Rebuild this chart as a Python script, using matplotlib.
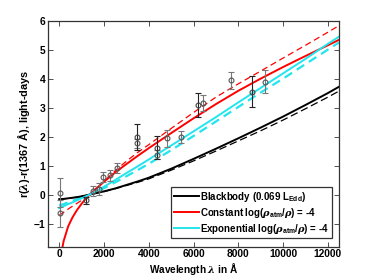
import numpy as np
import matplotlib.pyplot as plt

# 폰트 설정 (Helvetica 비슷하게)
plt.rcParams['font.family'] = ['Liberation Sans', 'DejaVu Sans']
plt.rcParams['font.weight'] = 'bold'
plt.rcParams['mathtext.fontset'] = 'custom'
plt.rcParams['mathtext.rm'] = 'Liberation Sans:bold'
plt.rcParams['mathtext.bf'] = 'Liberation Sans:bold'
plt.rcParams['mathtext.it'] = 'DejaVu Serif:italic'

# 모델 곡선
lam_model = [0, 200, 400, 600, 800, 1000, 1200, 1367, 1600, 2000, 2500, 3000, 3500,
             4000, 5000, 6000, 7000, 8000, 9000, 10000, 11000, 12000, 12500]

bb_solid = [-0.16, -0.15, -0.13, -0.11, -0.09, -0.06, -0.03, 0.0, 0.04, 0.11, 0.21, 0.33, 0.45,
            0.58, 0.89, 1.23, 1.58, 1.94, 2.31, 2.69, 3.09, 3.5, 3.72]
bb_dash = [-0.16, -0.15, -0.13, -0.11, -0.09, -0.06, -0.03, 0.0, 0.04, 0.10, 0.20, 0.31, 0.42,
           0.54, 0.84, 1.16, 1.5, 1.85, 2.2, 2.57, 2.96, 3.36, 3.57]
const_solid = [-2.4, -1.6, -1.1, -0.78, -0.53, -0.32, -0.13, 0.0, 0.17, 0.44, 0.76, 1.05, 1.33,
               1.60, 2.12, 2.63, 3.12, 3.58, 4.0, 4.4, 4.78, 5.15, 5.34]
const_dash = [-0.72, -0.61, -0.5, -0.4, -0.3, -0.2, -0.1, 0.0, 0.17, 0.45, 0.82, 1.15, 1.45,
              1.72, 2.28, 2.83, 3.36, 3.82, 4.26, 4.71, 5.15, 5.6, 5.83]
exp_solid = [-0.47, -0.4, -0.33, -0.27, -0.2, -0.13, -0.06, 0.0, 0.1, 0.27, 0.5, 0.74, 0.97,
             1.21, 1.69, 2.18, 2.67, 3.18, 3.68, 4.18, 4.68, 5.2, 5.45]
exp_dash = [-0.38, -0.33, -0.27, -0.22, -0.16, -0.1, -0.05, 0.0, 0.08, 0.22, 0.42, 0.63, 0.84,
            1.06, 1.53, 2.02, 2.52, 3.02, 3.52, 4.0, 4.5, 5.0, 5.25]

# 관측 지연값 (회색 / 검정 에러바)
lam_gray = [30, 30, 1497, 1765, 1944, 2270, 2597, 3460, 4384, 4800, 5429, 6439, 7662, 9180]
r_gray = [0.07, -0.65, 0.12, 0.2, 0.6, 0.66, 0.91, 1.77, 1.38, 1.94, 2.0, 3.17, 3.94, 3.89]
err_gray = [0.5, 0.47, 0.17, 0.2, 0.18, 0.18, 0.18, 0.15, 0.15, 0.3, 0.21, 0.27, 0.29, 0.4]

lam_black = [1197, 3460, 4384, 6216, 8600]
r_black = [-0.2, 2.0, 1.61, 3.09, 3.55]
err_black = [0.12, 0.45, 0.4, 0.41, 0.53]

fig = plt.figure(figsize=(3.75, 2.78), dpi=100)
ax = fig.add_axes([0.128, 0.1126, 0.776, 0.813])

ax.plot(lam_model, bb_dash, color='black', lw=0.9, dashes=(6, 3))
ax.plot(lam_model, exp_dash, color='#22e5ee', lw=1.6, dashes=(4, 2.5))
ax.plot(lam_model, const_dash, color='red', lw=0.9, dashes=(5, 3))
line_bb, = ax.plot(lam_model, bb_solid, color='black', lw=1.4)
line_c, = ax.plot(lam_model, const_solid, color='red', lw=1.4)
line_e, = ax.plot(lam_model, exp_solid, color='#22e5ee', lw=1.4)

ax.errorbar(lam_gray, r_gray, yerr=err_gray, fmt='o', ms=3.5, mfc='none', mec='#555555',
            mew=0.8, ecolor='#777777', elinewidth=0.8, capsize=2.2, capthick=0.8)
ax.errorbar(lam_black, r_black, yerr=err_black, fmt='o', ms=3.5, mfc='none', mec='#444444',
            mew=0.8, ecolor='#222222', elinewidth=0.8, capsize=2.2, capthick=0.8)

ax.set_xlim(-500, 12500)
ax.set_ylim(-1.8, 6)
ax.set_xticks([0, 2000, 4000, 6000, 8000, 10000, 12000])
ax.set_yticks([-1, 0, 1, 2, 3, 4, 5, 6])
ax.tick_params(direction='in', top=True, right=True, length=3.5, width=0.6,
               labelsize=7.4, pad=2, color='#333333')
for lab in ax.get_xticklabels() + ax.get_yticklabels():
    lab.set_fontweight('bold')
for s in ax.spines.values():
    s.set_color('#333333')
    s.set_linewidth(0.9)

ax.set_xlabel(r'Wavelength $\lambda$ in Å', fontsize=7.2, fontweight='bold', labelpad=1)
ax.set_ylabel(r'r($\lambda$)-r(1367 Å), light-days', fontsize=7.8, fontweight='bold', labelpad=1)

leg = ax.legend([line_bb, line_c, line_e],
                [r'Blackbody (0.069 L$_{\mathbf{Edd}}$)',
                 r'Constant log($\rho_{\mathbf{atm}}/\rho$) = -4',
                 r'Exponential log($\rho_{\mathbf{atm}}/\rho$) = -4'],
                loc='lower right', bbox_to_anchor=(0.985, 0.025), fontsize=7,
                fancybox=False, framealpha=1, edgecolor='#333333',
                handlelength=2.6, handletextpad=0.15, borderpad=0.25, labelspacing=0.2,
                borderaxespad=0.3)
leg.get_frame().set_linewidth(0.9)

fig.savefig('out.png', dpi=100)
